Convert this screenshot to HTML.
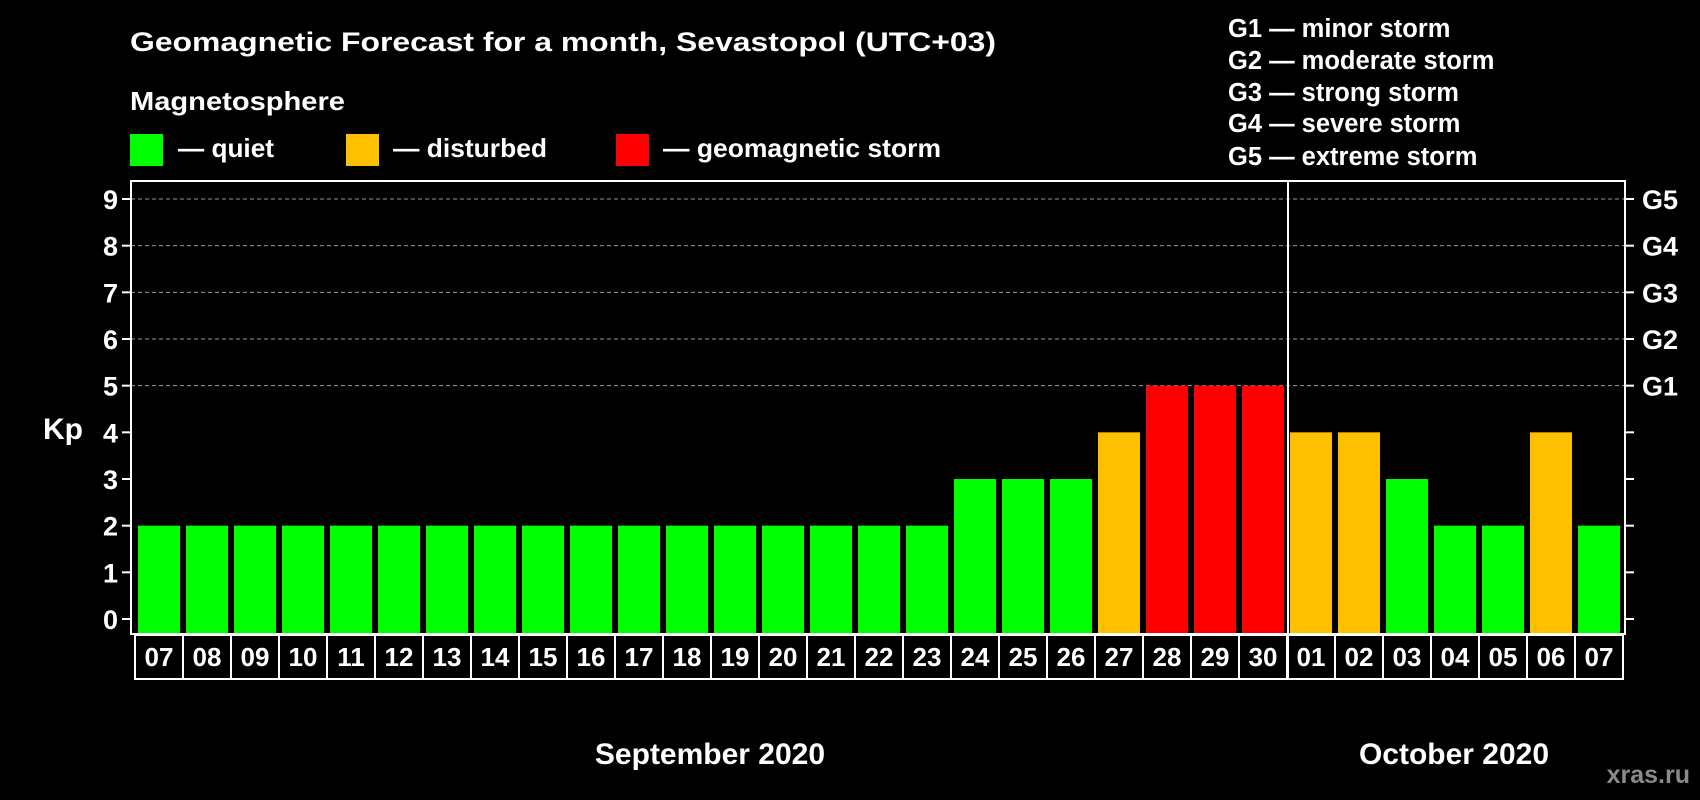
<!DOCTYPE html>
<html><head><meta charset="utf-8">
<style>
html,body{margin:0;padding:0;background:#000;}
svg{display:block;font-family:"Liberation Sans",sans-serif;font-weight:bold;}
</style></head>
<body>
<svg id="chart" width="1700" height="800" viewBox="0 0 1700 800" xmlns="http://www.w3.org/2000/svg">
<rect width="1700" height="800" fill="#000"/>
<text x="130" y="51" fill="#fff" font-size="27" textLength="866" lengthAdjust="spacingAndGlyphs">Geomagnetic Forecast for a month, Sevastopol (UTC+03)</text>
<text x="130" y="110" fill="#fff" font-size="26" textLength="215" lengthAdjust="spacingAndGlyphs">Magnetosphere</text>
<g>
<rect x="130" y="134" width="33" height="32" fill="#00ff00"/>
<text x="178" y="157" fill="#fff" font-size="26" textLength="96" lengthAdjust="spacingAndGlyphs">— quiet</text>
</g>
<g>
<rect x="346" y="134" width="33" height="32" fill="#ffc000"/>
<text x="393" y="157" fill="#fff" font-size="26" textLength="154" lengthAdjust="spacingAndGlyphs">— disturbed</text>
</g>
<g>
<rect x="616" y="134" width="33" height="32" fill="#ff0000"/>
<text x="663" y="157" fill="#fff" font-size="26" textLength="278" lengthAdjust="spacingAndGlyphs">— geomagnetic storm</text>
</g>
<g fill="#fff" font-size="25.5">
<text x="1228" y="37">G1 — minor storm</text>
<text x="1228" y="69">G2 — moderate storm</text>
<text x="1228" y="101">G3 — strong storm</text>
<text x="1228" y="132">G4 — severe storm</text>
<text x="1228" y="165">G5 — extreme storm</text>
</g>
<g id="plot"></g>
<text x="43" y="439" fill="#fff" font-size="30">Kp</text>
<text x="710" y="764" fill="#fff" font-size="30" text-anchor="middle">September 2020</text>
<text x="1454" y="764" fill="#fff" font-size="30" text-anchor="middle">October 2020</text>
<text x="1690" y="783" fill="#8a8a8a" font-size="25" text-anchor="end">xras.ru</text>
</svg>
<script>
const days = ["07","08","09","10","11","12","13","14","15","16","17","18","19","20","21","22","23","24","25","26","27","28","29","30","01","02","03","04","05","06","07"];
const kpValues = [2,2,2,2,2,2,2,2,2,2,2,2,2,2,2,2,2,3,3,3,4,5,5,5,4,4,3,2,2,4,2];
const yTicks = [0,1,2,3,4,5,6,7,8,9];
const gLabels = ["G1","G2","G3","G4","G5"];
const gLevels = [5,6,7,8,9];
const monthBreakIndex = 24;

(function(){
const NS = "http://www.w3.org/2000/svg";
const plot = document.getElementById("plot");
const plotLeft = 131, plotRight = 1625, plotTop = 181, plotBottom = 634;
const slotStart = 135, slot = (1623 - 135) / days.length;
function yScale(v){ return 619 - v * (619 - 199) / 9; }
function xSlot(i){ return slotStart + i * slot; }
function color(v){ return v >= 5 ? "#ff0000" : (v >= 4 ? "#ffc000" : "#00ff00"); }
function mk(tag, attrs){ const e = document.createElementNS(NS, tag); for (const k in attrs) e.setAttribute(k, attrs[k]); plot.appendChild(e); return e; }

yTicks.forEach(v => {
  if (v >= 5) {
    const g = mk("line", {x1: plotLeft, x2: plotRight, y1: yScale(v), y2: yScale(v), stroke: "#9a9a9a", "stroke-width": 1, "stroke-dasharray": "4,3"});
    
    
  }
  const t1 = mk("line", {x1: plotLeft - 9, x2: plotLeft, y1: yScale(v), y2: yScale(v), stroke: "#fff", "stroke-width": 2});
  
  
  const t2 = mk("line", {x1: plotRight, x2: plotRight + 9, y1: yScale(v), y2: yScale(v), stroke: "#fff", "stroke-width": 2});
  
  
  const lab = mk("text", {x: 118, y: yScale(v) + 10, fill: "#fff", "font-size": 27, "text-anchor": "end"});
  lab.textContent = v;
  
  
});
gLabels.forEach((g, i) => {
  const t = mk("text", {x: 1642, y: yScale(gLevels[i]) + 10, fill: "#fff", "font-size": 27});
  t.textContent = g;
  
  
});
kpValues.forEach((v, i) => {
  const b = mk("rect", {x: xSlot(i) + 3, y: yScale(v), width: slot - 6, height: plotBottom - 1 - yScale(v), fill: color(v)});
  
  
});
const fr = mk("rect", {x: plotLeft, y: plotTop, width: plotRight - plotLeft, height: plotBottom - plotTop, fill: "none", stroke: "#fff", "stroke-width": 2});


const mx = xSlot(monthBreakIndex);
const dv = mk("line", {x1: mx + 1, x2: mx + 1, y1: plotTop, y2: 680, stroke: "#fff", "stroke-width": 2});


days.forEach((d, i) => {
  const r = mk("rect", {x: xSlot(i), y: 635, width: slot, height: 44, fill: "none", stroke: "#fff", "stroke-width": 2});
  
  
  const t = mk("text", {x: xSlot(i) + slot / 2, y: 666, fill: "#fff", "font-size": 26, "text-anchor": "middle"});
  t.textContent = d;
  
  
});
})();
</script>
</body></html>
